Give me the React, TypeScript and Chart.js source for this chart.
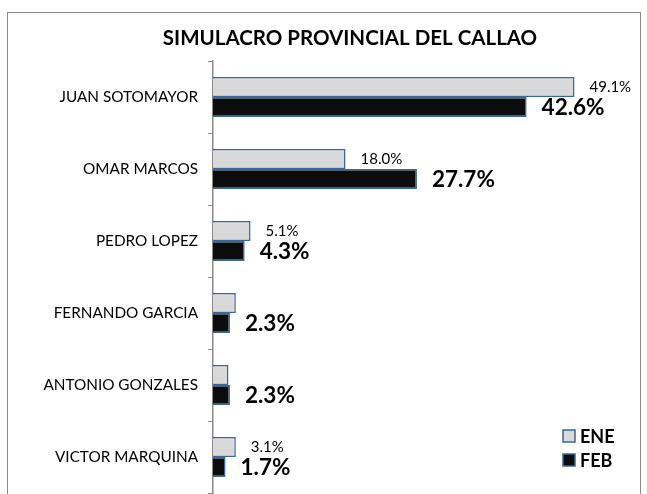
import React, { useEffect, useRef } from "react";
import { Chart, registerables } from "chart.js";
Chart.register(...registerables);

const chartTitle = "SIMULACRO PROVINCIAL DEL CALLAO";
const categories = [
  "JUAN SOTOMAYOR",
  "OMAR MARCOS",
  "PEDRO LOPEZ",
  "FERNANDO GARCIA",
  "ANTONIO GONZALES",
  "VICTOR MARQUINA",
];
const seriesNames = ["ENE", "FEB"];
const eneValues = [49.1, 18.0, 5.1, 3.1, 2.1, 3.1];
const febValues = [42.6, 27.7, 4.3, 2.3, 2.3, 1.7];
const eneLabels = ["49.1%", "18.0%", "5.1%", "", "", "3.1%"];
const febLabels = ["42.6%", "27.7%", "4.3%", "2.3%", "2.3%", "1.7%"];

const FONT = "Lato, 'Open Sans', sans-serif";
const ENE_FILL = "#D9D9D9";
const FEB_FILL = "#0D0D0D";
const EDGE = "#3A679A";

const deco = {
  id: "deco",
  beforeDraw(chart: any) {
    const ctx = chart.ctx;
    ctx.save();
    ctx.fillStyle = "#ffffff";
    ctx.fillRect(0, 0, chart.width, chart.height);
    ctx.strokeStyle = "#8A8A8A";
    ctx.lineWidth = 1;
    ctx.strokeRect(7.5, 12.5, 633, 600);
    ctx.restore();
  },
  afterDraw(chart: any) {
    const ctx = chart.ctx;
    ctx.save();
    ctx.fillStyle = "#000";
    ctx.font = `bold 20.5px ${FONT}`;
    ctx.textAlign = "center";
    ctx.textBaseline = "middle";
    ctx.fillText(chartTitle, 350, 38);

    ctx.textAlign = "left";
    const m0 = chart.getDatasetMeta(0);
    const m1 = chart.getDatasetMeta(1);
    ctx.font = `15px ${FONT}`;
    m0.data.forEach((el: any, i: number) => {
      if (eneLabels[i]) ctx.fillText(eneLabels[i], el.x + 15, el.y);
    });
    ctx.font = `bold 22.5px ${FONT}`;
    m1.data.forEach((el: any, i: number) => {
      if (febLabels[i]) ctx.fillText(febLabels[i], el.x + 15, el.y + 1);
    });

    const fills = [ENE_FILL, FEB_FILL];
    const ys = [436, 460];
    ctx.font = `bold 18px ${FONT}`;
    seriesNames.forEach((name, i) => {
      ctx.fillStyle = fills[i];
      ctx.fillRect(563, ys[i] - 6, 12, 12);
      ctx.strokeStyle = EDGE;
      ctx.lineWidth = 1.5;
      ctx.strokeRect(563, ys[i] - 6, 12, 12);
      ctx.fillStyle = "#000";
      ctx.fillText(name, 580, ys[i] + 1);
    });
    ctx.restore();
  },
};

export default function App() {
  const ref = useRef<HTMLCanvasElement>(null);
  useEffect(() => {
    if (!ref.current) return;
    const chart = new Chart(ref.current, {
      type: "bar",
      data: {
        labels: categories,
        datasets: [
          {
            label: seriesNames[0],
            data: eneValues,
            backgroundColor: ENE_FILL,
            borderColor: EDGE,
            borderWidth: 1.5,
            categoryPercentage: 0.556,
            barPercentage: 1,
          },
          {
            label: seriesNames[1],
            data: febValues,
            backgroundColor: FEB_FILL,
            borderColor: EDGE,
            borderWidth: 1.5,
            categoryPercentage: 0.556,
            barPercentage: 1,
          },
        ],
      },
      options: {
        indexAxis: "y",
        responsive: false,
        animation: false,
        layout: { padding: { top: 61, bottom: 1, left: 0, right: 7 } },
        plugins: {
          legend: { display: false },
          title: { display: false },
          tooltip: { enabled: false },
        },
        scales: {
          x: { display: false, min: 0, max: 58 },
          y: {
            afterFit(scale: any) {
              scale.width = 213;
              scale.paddingTop = 0;
              scale.paddingBottom = 0;
            },
            grid: {
              drawOnChartArea: false,
              drawTicks: true,
              tickLength: 5,
              offset: true,
              color: "#8A8A8A",
            },
            border: { display: true, color: "#8A8A8A", width: 1.5 },
            ticks: {
              color: "#000",
              padding: 10,
              font: { family: FONT, size: 15.3 },
            },
          },
        },
      },
      plugins: [deco],
    });
    return () => chart.destroy();
  }, []);
  return (
    <div style={{ position: "absolute", left: 0, top: 0, width: 647, height: 494 }}>
      <canvas ref={ref} width={647} height={494} style={{ display: "block" }} />
    </div>
  );
}
